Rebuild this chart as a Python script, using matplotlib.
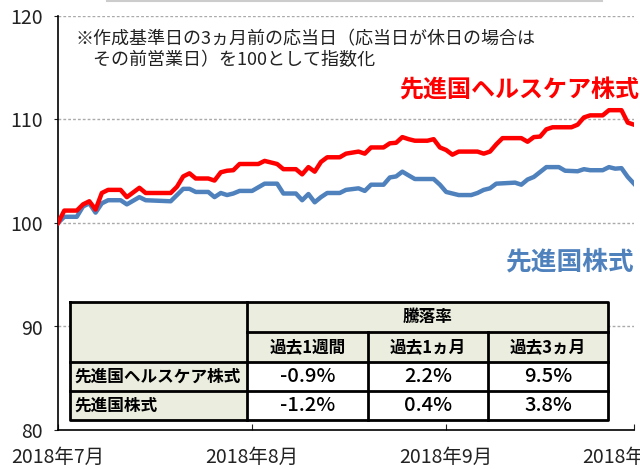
import pandas as pd
import matplotlib
matplotlib.use("Agg")
import matplotlib.pyplot as plt
from matplotlib.lines import Line2D
from matplotlib.patches import Rectangle

plt.rcParams['font.family'] = ['Noto Sans CJK JP', 'DejaVu Sans']

# index values (base = 100)
hc_dates = ["07-01", "07-02", "07-04", "07-05", "07-06", "07-07", "07-08", "07-09",
            "07-11", "07-12", "07-14", "07-15", "07-19", "07-20", "07-21", "07-22",
            "07-23", "07-25", "07-26", "07-27", "07-28", "07-29", "07-30", "08-02",
            "08-03", "08-05", "08-06", "08-08", "08-09", "08-10", "08-11", "08-12",
            "08-13", "08-15", "08-16", "08-18", "08-19", "08-20", "08-22", "08-23",
            "08-24", "08-25", "08-26", "08-27", "08-29", "08-30", "08-31", "09-01",
            "09-02", "09-03", "09-06", "09-07", "09-08", "09-09", "09-10", "09-13",
            "09-14", "09-15", "09-16", "09-17", "09-18", "09-21", "09-22", "09-23",
            "09-24", "09-26", "09-27", "09-29", "09-30", "10-01"]
hc_values = [100.0, 101.2, 101.2, 101.8, 102.1, 101.3, 102.9, 103.2,
             103.2, 102.5, 103.4, 102.9, 102.9, 103.5, 104.5, 104.8,
             104.3, 104.3, 104.1, 104.9, 105.05, 105.1, 105.7, 105.7,
             106.0, 105.7, 105.2, 105.2, 104.7, 105.4, 104.96, 105.9,
             106.35, 106.35, 106.7, 106.9, 106.7, 107.3, 107.3, 107.7,
             107.75, 108.3, 108.1, 107.95, 107.95, 108.1, 107.3, 107.05,
             106.6, 106.9, 106.9, 106.7, 106.9, 107.6, 108.2, 108.2,
             107.85, 108.3, 108.35, 109.05, 109.25, 109.25, 109.5, 110.2,
             110.4, 110.4, 110.9, 110.9, 109.7, 109.5]

eq_dates = ["07-01", "07-02", "07-04", "07-05", "07-06", "07-07", "07-08", "07-09",
            "07-11", "07-12", "07-14", "07-15", "07-19", "07-20", "07-21", "07-22",
            "07-23", "07-25", "07-26", "07-27", "07-28", "07-29", "07-30", "08-01",
            "08-03", "08-05", "08-06", "08-08", "08-09", "08-10", "08-11", "08-12",
            "08-13", "08-15", "08-16", "08-18", "08-19", "08-20", "08-22", "08-23",
            "08-24", "08-25", "08-26", "08-27", "08-30", "08-31", "09-01", "09-03",
            "09-05", "09-06", "09-07", "09-08", "09-09", "09-12", "09-13", "09-14",
            "09-15", "09-17", "09-19", "09-20", "09-22", "09-23", "09-24", "09-26",
            "09-27", "09-28", "09-29", "09-30", "10-01"]
eq_values = [100.0, 100.6, 100.6, 101.6, 101.9, 101.0, 101.9, 102.2,
             102.2, 101.8, 102.5, 102.2, 102.1, 102.7, 103.3, 103.3,
             103.0, 103.0, 102.5, 102.9, 102.7, 102.85, 103.1, 103.1,
             103.8, 103.8, 102.85, 102.85, 102.2, 102.8, 102.0, 102.5,
             102.9, 102.9, 103.2, 103.35, 103.1, 103.7, 103.7, 104.4,
             104.5, 104.96, 104.6, 104.25, 104.25, 103.7, 103.0, 102.7,
             102.7, 102.9, 103.2, 103.35, 103.8, 103.9, 103.7, 104.2,
             104.45, 105.4, 105.4, 105.05, 105.0, 105.2, 105.1, 105.1,
             105.4, 105.25, 105.3, 104.45, 103.8]

# table contents
row_names = ["先進国ヘルスケア株式", "先進国株式"]
col_names = ["過去1週間", "過去1ヵ月", "過去3ヵ月"]
table_vals = [["-0.9%", "2.2%", "9.5%"],
              ["-1.2%", "0.4%", "3.8%"]]

RED = "#FF0000"
BLUE = "#4F81BD"
BEIGE = "#EBEEDF"

W, H = 640, 469
fig = plt.figure(figsize=(W / 100, H / 100), dpi=100)
ax = fig.add_axes([58 / W, 39 / H, (634 - 58) / W, (430 - 16) / H])

hx = pd.to_datetime(["2018-" + d for d in hc_dates])
ex = pd.to_datetime(["2018-" + d for d in eq_dates])
ax.plot(ex, eq_values, color=BLUE, lw=3.2, solid_joinstyle="round", zorder=3)
ax.plot(hx, hc_values, color=RED, lw=3.2, solid_joinstyle="round", zorder=3)

ax.set_ylim(80, 120)
ax.set_yticks([80, 90, 100, 110, 120])
ax.set_xlim(pd.Timestamp("2018-07-01"), pd.Timestamp("2018-10-01"))
month_ticks = pd.to_datetime(["2018-07-01", "2018-08-01", "2018-09-01", "2018-10-01"])
ax.set_xticks(month_ticks)
ax.set_xticklabels([f"2018年{m.month}月" for m in month_ticks])

for v in [90, 100, 110, 120]:
    ax.axhline(v, color="#aaaaaa", lw=1, ls=(0, (2, 1.5)), zorder=1)

for s in ["top", "right"]:
    ax.spines[s].set_visible(False)
ax.spines["left"].set_linewidth(1.2)
ax.spines["bottom"].set_linewidth(1.2)
ax.tick_params(axis="y", labelsize=14, length=3, pad=8, colors="#222222")
ax.tick_params(axis="x", labelsize=14, direction="in", length=4, pad=12, colors="#222222")
ax.set_facecolor("none")

ax.text(0.03, 0.965, "※作成基準日の3ヵ月前の応当日（応当日が休日の場合は\n　その前営業日）を100として指数化",
        transform=ax.transAxes, fontsize=13, va="top", ha="left", color="#222222",
        linespacing=1.2)
ax.text(1.008, 0.82, "先進国ヘルスケア株式", transform=ax.transAxes, fontsize=17.3,
        fontweight="bold", color=RED, ha="right", va="center")
ax.text(1.002, 0.405, "先進国株式", transform=ax.transAxes, fontsize=18.5,
        fontweight="bold", color=BLUE, ha="right", va="center")

# table drawn in pixel coordinates on an overlay axes
tab = fig.add_axes([0, 0, 1, 1])
tab.set_xlim(0, W)
tab.set_ylim(H, 0)
tab.axis("off")
xs = [70, 247, 368, 488, 608]
ys = [302, 332, 362, 391, 420]
lw = 2

tab.add_patch(Rectangle((xs[0], ys[0]), xs[-1] - xs[0], ys[2] - ys[0], fc=BEIGE, ec="none"))
tab.add_patch(Rectangle((xs[0], ys[2]), xs[1] - xs[0], ys[4] - ys[2], fc=BEIGE, ec="none"))
tab.add_patch(Rectangle((xs[1], ys[2]), xs[4] - xs[1], ys[4] - ys[2], fc="white", ec="none"))

tab.add_line(Line2D([xs[0], xs[4], xs[4], xs[0], xs[0]], [ys[0], ys[0], ys[4], ys[4], ys[0]], color="black", lw=lw))
tab.add_line(Line2D([xs[1], xs[4]], [ys[1], ys[1]], color="black", lw=lw))
for y in ys[2:4]:
    tab.add_line(Line2D([xs[0], xs[4]], [y, y], color="black", lw=lw))
tab.add_line(Line2D([xs[1], xs[1]], [ys[0], ys[4]], color="black", lw=lw))
for x in xs[2:4]:
    tab.add_line(Line2D([x, x], [ys[1], ys[4]], color="black", lw=lw))

tab.text((xs[1] + xs[4]) / 2, (ys[0] + ys[1]) / 2, "騰落率", fontsize=12,
         fontweight="bold", ha="center", va="center")
for i, name in enumerate(col_names):
    tab.text((xs[i + 1] + xs[i + 2]) / 2, (ys[1] + ys[2]) / 2, name, fontsize=12,
             fontweight="bold", ha="center", va="center")
for r, name in enumerate(row_names):
    yc = (ys[r + 2] + ys[r + 3]) / 2
    tab.text(xs[0] + 4, yc, name, fontsize=12, fontweight="bold", ha="left", va="center")
    for c, val in enumerate(table_vals[r]):
        tab.text((xs[c + 1] + xs[c + 2]) / 2, yc, val, fontsize=14.5,
                 fontweight="medium", ha="center", va="center")

# faint bar at the very top of the picture
tab.add_line(Line2D([107, 602], [0.8, 0.8], color="#cccccc", lw=1.5))

fig.savefig("out.png", dpi=100)
